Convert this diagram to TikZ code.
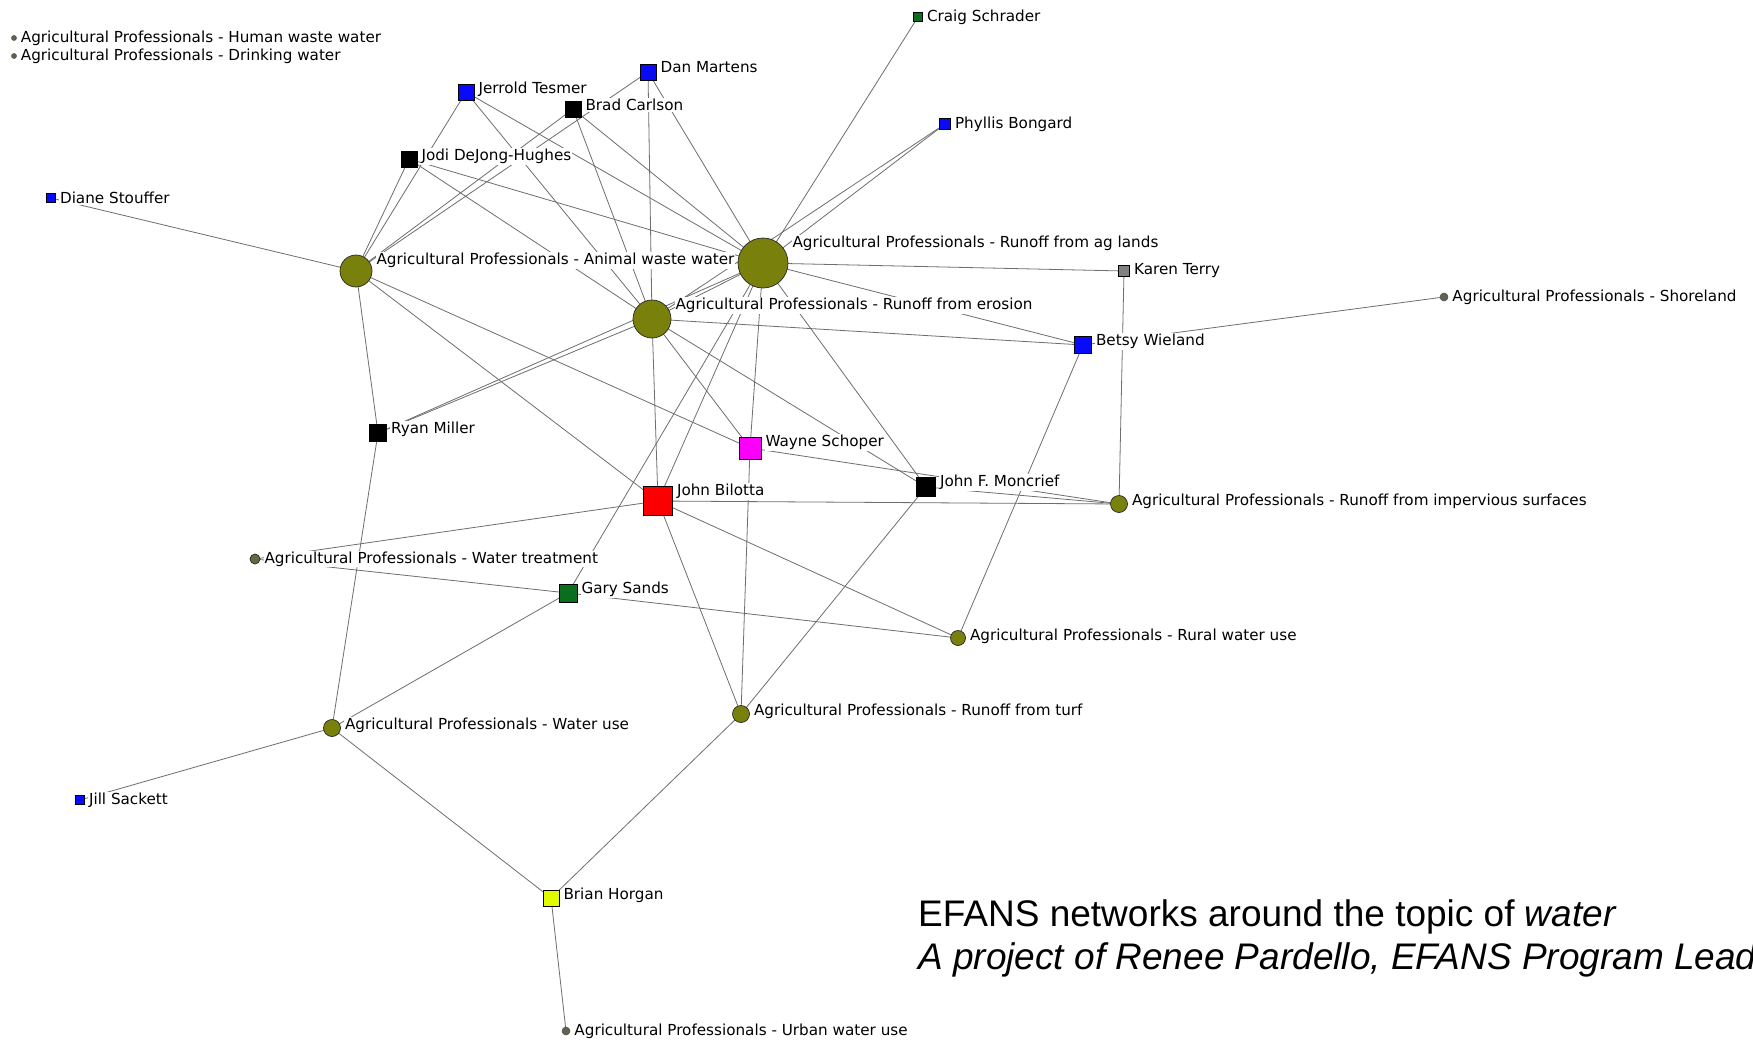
\documentclass[tikz,border=0pt]{standalone}
\usepackage{fontspec}
\setmainfont{Liberation Sans}
\newfontfamily\netfont{DejaVu Sans}
\usetikzlibrary{backgrounds}
\definecolor{topicolive}{RGB}{122,128,12}
\definecolor{tiegray}{RGB}{110,110,110}
\definecolor{pblue}{RGB}{10,10,250}
\definecolor{pgreen}{RGB}{10,110,30}
\definecolor{pgray}{RGB}{128,128,128}
\definecolor{pred}{RGB}{250,0,0}
\definecolor{pmagenta}{RGB}{250,0,250}
\definecolor{pyellow}{RGB}{225,250,0}
\definecolor{dotgray}{RGB}{95,100,80}
\newcommand\netlab{\netfont\fontsize{15.2}{18}\selectfont}
\tikzset{
  person/.style={rectangle, draw=black, line width=0.7pt, inner sep=0pt, minimum size=#1},
  topic/.style={circle, draw=black!85, line width=0.7pt, inner sep=0pt, minimum size=#1, fill=topicolive},
  tinytopic/.style={circle, draw=black!70, line width=0.5pt, inner sep=0pt, minimum size=#1, fill=dotgray},
  tie/.style={draw=tiegray, line width=0.8pt},
  % label whose top edge lines up with the top of a square node
  lab/.style={font=\netlab, fill=white, inner sep=1pt, anchor=north west, xshift=3pt, yshift=3pt},
  % same for a circle of radius #1 (label is hung from its east point)
  labr/.style={font=\netlab, fill=white, inner sep=1pt, anchor=north west, xshift=3pt, yshift=3pt+#1},
  % label centred on a small node
  labc/.style={font=\netlab, fill=white, inner sep=1pt, anchor=west, xshift=3pt},
  caption/.style={anchor=base west, inner sep=0pt, font=\fontsize{37}{44}\selectfont}
}
\begin{document}
\begin{tikzpicture}[x=1pt, y=-1pt]
\useasboundingbox (0,0) rectangle (1753,1041);

% isolated topics
\node[tinytopic=5, label={[labc]east:Agricultural Professionals - Human waste water}] (hww) at (14,38) {};
\node[tinytopic=5, label={[labc]east:Agricultural Professionals - Drinking water}] (dw) at (14,56) {};

% people
\node[person=9, fill=pgreen, label={[labc]east:Craig Schrader}] (cs) at (918,17) {};
\node[person=16, fill=pblue, label={[lab]north east:Dan Martens}] (dm) at (648,72) {};
\node[person=16, fill=pblue, label={[lab]north east:Jerrold Tesmer}] (jt) at (466,92) {};
\node[person=16, fill=black, label={[lab]north east:Brad Carlson}] (bc) at (573,109) {};
\node[person=11, fill=pblue, label={[labc]east:Phyllis Bongard}] (pb) at (945,124) {};
\node[person=16, fill=black, label={[lab]north east:Jodi DeJong-Hughes}] (jd) at (409,159) {};
\node[person=9, fill=pblue, label={[labc]east:Diane Stouffer}] (ds) at (51,198) {};
\node[person=11, fill=pgray, label={[labc]east:Karen Terry}] (kt) at (1124,271) {};
\node[person=17, fill=pblue, label={[lab]north east:Betsy Wieland}] (bw) at (1083,345) {};
\node[person=17, fill=black, label={[lab]north east:Ryan Miller}] (rm) at (378,433) {};
\node[person=22, fill=pmagenta, label={[lab]north east:Wayne Schoper}] (ws) at (750,448) {};
\node[person=19, fill=black, label={[lab]north east:John F. Moncrief}] (jm) at (926,487) {};
\node[person=29, fill=pred, label={[lab]north east:John Bilotta}] (jb) at (658,501) {};
\node[person=18, fill=pgreen, label={[lab]north east:Gary Sands}] (gs) at (568,593) {};
\node[person=9, fill=pblue, label={[labc]east:Jill Sackett}] (jsk) at (80,800) {};
\node[person=16, fill=pyellow, label={[lab]north east:Brian Horgan}] (bh) at (551,898) {};

% topics
\node[topic=32, label={[labr=16pt]east:Agricultural Professionals - Animal waste water}] (aww) at (356,271) {};
\node[topic=50, label={[labr=25pt]east:Agricultural Professionals - Runoff from ag lands}] (agl) at (763,263) {};
\node[topic=38, label={[labr=19pt]east:Agricultural Professionals - Runoff from erosion}] (ero) at (652,319) {};
\node[tinytopic=8, label={[labc]east:Agricultural Professionals - Shoreland}] (sh) at (1444,297) {};
\node[topic=17, label={[labr=8.5pt]east:Agricultural Professionals - Runoff from impervious surfaces}] (imp) at (1119,504) {};
\node[topic=10, fill=dotgray!80!topicolive, label={[labc]east:Agricultural Professionals - Water treatment}] (wt) at (255,559) {};
\node[topic=15, label={[labr=7.5pt]east:Agricultural Professionals - Rural water use}] (rwu) at (958,638) {};
\node[topic=17, label={[labr=8.5pt]east:Agricultural Professionals - Runoff from turf}] (turf) at (741,714) {};
\node[topic=17, label={[labr=8.5pt]east:Agricultural Professionals - Water use}] (wu) at (332,728) {};
\node[tinytopic=8, label={[labc]east:Agricultural Professionals - Urban water use}] (uwu) at (566,1031) {};

% ties, drawn centre to centre underneath the nodes and labels
\begin{pgfonlayer}{background}
\fill[white] (0,0) rectangle (1753,1041);
\foreach \a/\b in {ds/aww, jd/aww, jt/aww, bc/aww, dm/aww,
  jt/ero, jt/agl, jd/agl, jd/ero, bc/ero, bc/agl, dm/ero, dm/agl,
  cs/agl, pb/agl, pb/ero,
  aww/rm, aww/jb, aww/ws,
  rm/ero, rm/agl, rm/wu,
  ero/agl, ero/jb, ero/ws, ero/jm, ero/bw,
  agl/kt, agl/bw, agl/ws, agl/jm, agl/jb, agl/gs,
  kt/imp, bw/sh, bw/rwu,
  ws/imp, ws/turf, jm/imp, jm/turf,
  jb/imp, jb/rwu, jb/turf, jb/wt,
  wt/gs, gs/rwu, gs/wu,
  wu/jsk, wu/bh, turf/bh, bh/uwu}
  \draw[tie] (\a.center) -- (\b.center);
\end{pgfonlayer}

% caption
\node[caption] (title) at (918,926) {EFANS networks around the topic of \textit{water}};
\node[caption, font=\fontsize{37}{44}\selectfont\itshape] (credit) at (918,969) {A project of Renee Pardello, EFANS Program Lead};
\end{tikzpicture}
\end{document}
